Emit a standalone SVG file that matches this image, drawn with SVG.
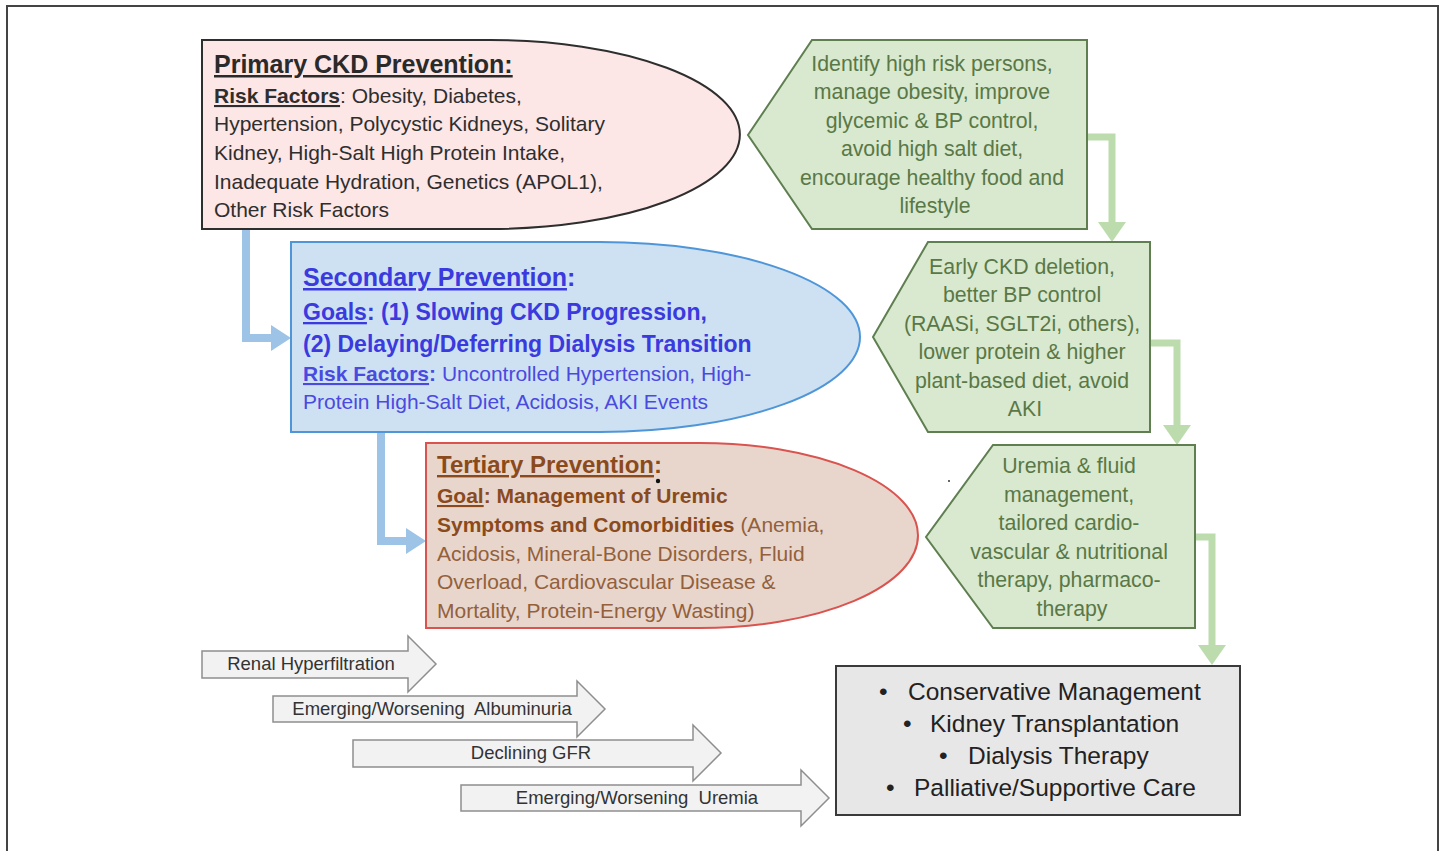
<svg xmlns="http://www.w3.org/2000/svg" width="1443" height="851" viewBox="0 0 1443 851">
  <style>
    text { font-family: "Liberation Sans", Arial, sans-serif; }
    .b { font-weight: bold; }
    .u { text-decoration: underline; }
    .prim { fill: #fde6e6; stroke: #2e2e2e; stroke-width: 2; }
    .sec { fill: #cde1f3; stroke: #4f96d8; stroke-width: 2; }
    .ter { fill: #e8d6cd; stroke: #d9534f; stroke-width: 2; }
    .grn { fill: #d8e9cf; stroke: #5f7f50; stroke-width: 2; }
    .gt { fill: #5a7846; font-size: 21.3px; text-anchor: middle; }
    .gray { fill: #f2f2f2; stroke: #8e8e8e; stroke-width: 1.5; }
    .grt { fill: #333; font-size: 18.5px; text-anchor: middle; }
    .blue-c { fill: none; stroke: #9dc3e6; stroke-width: 8; }
    .green-c { fill: none; stroke: #bcdcae; stroke-width: 7; }
  </style>
  <defs>
    <marker id="ab" markerUnits="userSpaceOnUse" markerWidth="20" markerHeight="26" refX="0" refY="13" orient="auto">
      <path d="M0,0 L20,13 L0,26 Z" fill="#9dc3e6"/>
    </marker>
    <marker id="ag" markerUnits="userSpaceOnUse" markerWidth="20" markerHeight="28" refX="0" refY="14" orient="auto">
      <path d="M0,0 L20,14 L0,28 Z" fill="#bcdcae"/>
    </marker>
  </defs>
  <rect width="1443" height="851" fill="#ffffff"/>
  <path d="M7,851 V6 H1438 V851" fill="none" stroke="#444" stroke-width="2"/>

  <g id="connectors">
    <path class="blue-c" d="M246,229 V338 H271" marker-end="url(#ab)"/>
    <path class="blue-c" d="M381,432 V541 H406" marker-end="url(#ab)"/>
    <path class="green-c" d="M1087,137 H1112 V222" marker-end="url(#ag)"/>
    <path class="green-c" d="M1150,343 H1177 V425" marker-end="url(#ag)"/>
    <path class="green-c" d="M1195,537 H1212 V645" marker-end="url(#ag)"/>
  </g>

  <g id="primary">
    <path class="prim" d="M202,40 H490 A250,94.5 0 0 1 490,229 H202 Z"/>
    <text x="214" y="73" class="b u" font-size="25" fill="#2a2a2a">Primary CKD Prevention:</text>
    <text font-size="21" fill="#2e2e2e">
      <tspan x="214" y="103"><tspan class="b u">Risk Factors</tspan>: Obesity, Diabetes,</tspan>
      <tspan x="214" y="131">Hypertension, Polycystic Kidneys, Solitary</tspan>
      <tspan x="214" y="160">Kidney, High-Salt High Protein Intake,</tspan>
      <tspan x="214" y="189">Inadequate Hydration, Genetics (APOL1),</tspan>
      <tspan x="214" y="217">Other Risk Factors</tspan>
    </text>
  </g>

  <g id="primary-actions">
    <path class="grn" d="M812,40 H1087 V229 H812 L748,135 Z"/>
    <text class="gt">
      <tspan x="935" y="71">Identify high risk persons,</tspan>
      <tspan x="935" y="99">manage obesity, improve</tspan>
      <tspan x="935" y="128">glycemic &amp; BP control,</tspan>
      <tspan x="935" y="156">avoid high salt diet,</tspan>
      <tspan x="935" y="185">encourage healthy food and</tspan>
      <tspan x="935" y="213">lifestyle</tspan>
    </text>
  </g>

  <g id="secondary">
    <path class="sec" d="M291,242 H600 A260,95 0 0 1 600,432 H291 Z"/>
    <text x="303" y="286" class="b" font-size="25" fill="#3a3ade"><tspan class="u">Secondary Prevention</tspan>:</text>
    <text class="b" font-size="23" fill="#3a3ade">
      <tspan x="303" y="320"><tspan class="u">Goals</tspan>: (1) Slowing CKD Progression,</tspan>
      <tspan x="303" y="352">(2) Delaying/Deferring Dialysis Transition</tspan>
    </text>
    <text font-size="21" fill="#4a4ae0">
      <tspan x="303" y="381"><tspan class="b u">Risk Factors</tspan><tspan class="b">:</tspan> Uncontrolled Hypertension, High-</tspan>
      <tspan x="303" y="409">Protein High-Salt Diet, Acidosis, AKI Events</tspan>
    </text>
  </g>

  <g id="secondary-actions">
    <path class="grn" d="M928,242 H1150 V432 H928 L873,337 Z"/>
    <text class="gt">
      <tspan x="1025" y="274">Early CKD deletion,</tspan>
      <tspan x="1025" y="302">better BP control</tspan>
      <tspan x="1025" y="331">(RAASi, SGLT2i, others),</tspan>
      <tspan x="1025" y="359">lower protein &amp; higher</tspan>
      <tspan x="1025" y="388">plant-based diet, avoid</tspan>
      <tspan x="1025" y="416">AKI</tspan>
    </text>
  </g>

  <g id="tertiary">
    <path class="ter" d="M426,443 H700 A218,92.5 0 0 1 700,628 H426 Z"/>
    <text x="437" y="473" class="b" font-size="24" fill="#8b4a1c"><tspan class="u">Tertiary Prevention</tspan>:</text>
    <text font-size="21" fill="#93603b">
      <tspan x="437" y="503" class="b" fill="#8b4a1c"><tspan class="u">Goal</tspan>: Management of Uremic</tspan>
      <tspan x="437" y="532"><tspan class="b" fill="#8b4a1c">Symptoms and Comorbidities</tspan> (Anemia,</tspan>
      <tspan x="437" y="561">Acidosis, Mineral-Bone Disorders, Fluid</tspan>
      <tspan x="437" y="589">Overload, Cardiovascular Disease &amp;</tspan>
      <tspan x="437" y="618">Mortality, Protein-Energy Wasting)</tspan>
    </text>
    <circle cx="658" cy="481" r="2.2" fill="#111"/>
  </g>
  <circle cx="949" cy="481" r="1" fill="#333"/>

  <g id="tertiary-actions">
    <path class="grn" d="M993,445 H1195 V628 H993 L926,537 Z"/>
    <text class="gt">
      <tspan x="1072" y="473">Uremia &amp; fluid</tspan>
      <tspan x="1072" y="502">management,</tspan>
      <tspan x="1072" y="530">tailored cardio-</tspan>
      <tspan x="1072" y="559">vascular &amp; nutritional</tspan>
      <tspan x="1072" y="587">therapy, pharmaco-</tspan>
      <tspan x="1072" y="616">therapy</tspan>
    </text>
  </g>

  <g id="stage-hyperfiltration">
    <path class="gray" d="M202,651 H408 V636 L436,664 L408,692 V678 H202 Z"/>
    <text class="grt" x="311" y="670">Renal Hyperfiltration</text>
  </g>
  <g id="stage-albuminuria">
    <path class="gray" d="M273,696 H577 V681 L605,709 L577,737 V722 H273 Z"/>
    <text class="grt" x="432" y="715" xml:space="preserve">Emerging/Worsening  Albuminuria</text>
  </g>
  <g id="stage-gfr">
    <path class="gray" d="M353,740 H693 V725 L721,753 L693,781 V767 H353 Z"/>
    <text class="grt" x="531" y="759">Declining GFR</text>
  </g>
  <g id="stage-uremia">
    <path class="gray" d="M461,785 H801 V770 L829,798 L801,826 V811 H461 Z"/>
    <text class="grt" x="637" y="804" xml:space="preserve">Emerging/Worsening  Uremia</text>
  </g>

  <g id="outcomes">
    <rect x="836" y="666" width="404" height="149" fill="#e7e7e7" stroke="#3a3a3a" stroke-width="2"/>
    <g font-size="24.5" fill="#222">
      <text x="879" y="700">•</text>
      <text x="908" y="700">Conservative Management</text>
      <text x="903" y="732">•</text>
      <text x="930" y="732">Kidney Transplantation</text>
      <text x="939" y="764">•</text>
      <text x="968" y="764">Dialysis Therapy</text>
      <text x="886" y="796">•</text>
      <text x="914" y="796">Palliative/Supportive Care</text>
    </g>
  </g>
</svg>
